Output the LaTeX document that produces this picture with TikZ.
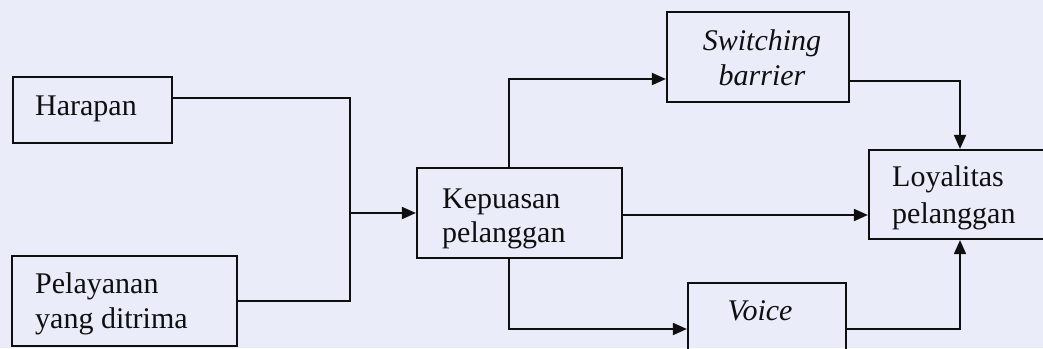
\documentclass[tikz,border=0pt]{standalone}
\usepackage{fontspec}
\setmainfont{Liberation Serif}
\usetikzlibrary{arrows.meta}
\definecolor{paper}{RGB}{234,236,250}
\definecolor{ink}{RGB}{15,15,15}
\begin{document}
\begin{tikzpicture}[x=1pt,y=-1pt,
  box/.style={draw=ink,line width=2.2pt,minimum width=#1,inner sep=0pt},
  lbl/.style={inner sep=0pt,text=ink,font=\fontsize{30}{34}\selectfont},
  ilbl/.style={lbl,font=\fontsize{30}{34}\selectfont\itshape},
  link/.style={draw=ink,line width=1.8pt},
  tip/.style={link,-{Triangle[length=14pt,width=12pt]}}]
\useasboundingbox (0,0) rectangle (1043,348);
\fill[paper] (0,0) rectangle (1043,348);
\clip (0,0) rectangle (1043,348);

% boxes
\node[box=159pt,minimum height=66pt] (harapan) at (92.5,110) {};
\node[box=225pt,minimum height=90pt] (pelayanan) at (124.5,301) {};
\node[box=205pt,minimum height=90pt] (kepuasan) at (519.5,213) {};
\node[box=182pt,minimum height=90pt] (switching) at (758,57) {};
\node[box=158pt,minimum height=92pt] (voice) at (767,329) {};
\node[box=220pt,minimum height=89pt] (loyalitas) at (979,194.5) {};

% labels
\node[lbl,anchor=base west] (t1) at (35,115) {Harapan};
\node[lbl,anchor=base west] (t2) at (35,293) {Pelayanan};
\node[lbl,anchor=base west] (t3) at (35,328) {yang ditrima};
\node[lbl,anchor=base west] (t4) at (442,208) {Kepuasan};
\node[lbl,anchor=base west] (t5) at (442,242) {pelanggan};
\node[ilbl,anchor=base] (t6) at (762,50) {Switching};
\node[ilbl,anchor=base] (t7) at (762,85) {barrier};
\node[ilbl,anchor=base] (t8) at (760,320) {Voice};
\node[lbl,anchor=base west] (t9) at (892,186) {Loyalitas};
\node[lbl,anchor=base west] (t10) at (892,223) {pelanggan};

% connectors
\coordinate (join) at (350,213);
\draw[link] ([yshift=12pt]harapan.east) -| (join);
\draw[link] (pelayanan.east) -| (join);
\draw[tip] (join) -- (kepuasan.west);
\draw[tip] ([xshift=-10.5pt]kepuasan.north) |- ([yshift=-22pt]switching.west);
\draw[tip] ([xshift=-10.5pt]kepuasan.south) |- (voice.west);
\draw[tip] ([yshift=-2pt]kepuasan.east) -- ([yshift=-2pt]kepuasan.east -| loyalitas.west);
\draw[tip] ([yshift=-24pt]switching.east) -| ([xshift=-19pt]loyalitas.north);
\draw[tip] (voice.east) -| ([xshift=-19pt]loyalitas.south);
\end{tikzpicture}
\end{document}
